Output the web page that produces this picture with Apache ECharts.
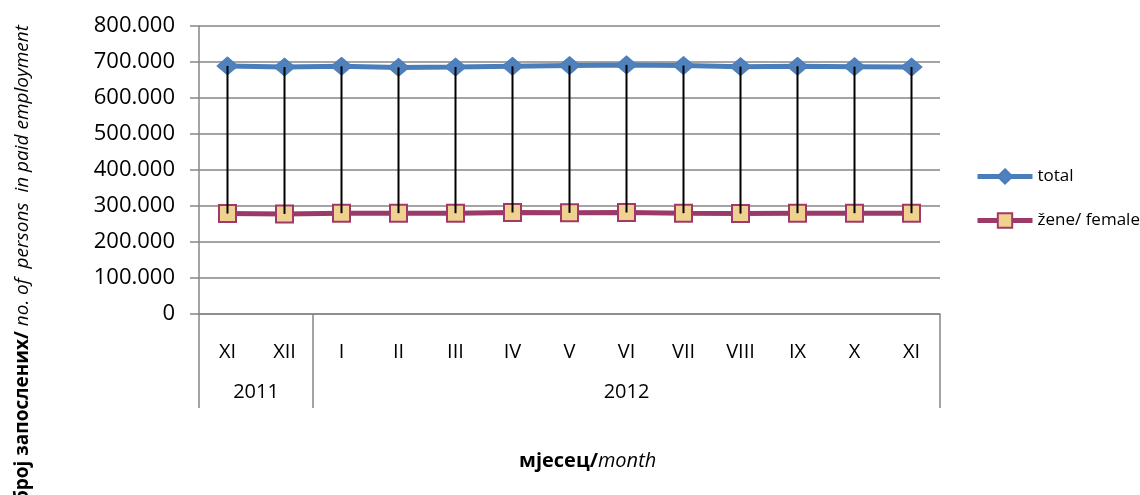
<!DOCTYPE html>
<html>
<head>
<meta charset="utf-8">
<script src="https://cdn.jsdelivr.net/npm/echarts@6/dist/echarts.min.js"></script>
<style>
  html, body { margin: 0; padding: 0; background: #fff; }
  #chart { width: 1140px; height: 495px; }
</style>
</head>
<body>
<div id="chart"></div>
<script>
// mjeseci (prvi nivo ose)
var months = ['XI', 'XII', 'I', 'II', 'III', 'IV', 'V', 'VI', 'VII', 'VIII', 'IX', 'X', 'XI'];
// godine (drugi nivo ose) i broj mjeseci u svakoj
var years = ['2011', '2012'];
var yearSpans = [2, 11];
// broj zaposlenih
var total = [689000, 686000, 688000, 685000, 686000, 688000, 690000, 692000, 690000, 687000, 688000, 687000, 686000];
var female = [279000, 278000, 280000, 280000, 280000, 282000, 281000, 282000, 280000, 279000, 280000, 280000, 280000];

var FONT = 'Open Sans';

function fmt(v) {
	return String(v).replace(/\B(?=(\d{3})+(?!\d))/g, '.');
}

// granice i sredine grupa godina
var yearBounds = [0], yearCenters = [];
yearSpans.forEach(function (n, i) {
	var start = yearBounds[i];
	yearBounds.push(start + n);
	yearCenters.push(start + n / 2);
});

var chart = echarts.init(document.getElementById('chart'));

var option = {
	animation: false,
	backgroundColor: '#fff',
	grid: { left: 199, right: 200, top: 26, bottom: 181 },
	legend: {
		data: ['total', 'žene/ female'],
		orient: 'vertical',
		left: 975,
		top: 168,
		padding: 0,
		itemWidth: 55,
		itemHeight: 18,
		itemGap: 27,
		lineStyle: { width: 5 },
		textStyle: { fontFamily: FONT, fontSize: 17, color: '#000' }
	},
	xAxis: [
		{
			type: 'category',
			data: months,
			boundaryGap: true,
			axisLine: { lineStyle: { color: '#868686', width: 1.5 } },
			axisTick: { show: false },
			axisLabel: { fontFamily: FONT, fontSize: 20, color: '#000', margin: 28, interval: 0 }
		},
		{
			type: 'value',
			position: 'bottom',
			min: 0,
			max: months.length,
			axisLine: { show: false },
			splitLine: { show: false },
			axisTick: {
				show: true,
				customValues: yearBounds,
				length: 94,
				lineStyle: { color: '#868686', width: 1.5 }
			},
			axisLabel: {
				customValues: yearCenters,
				fontFamily: FONT,
				fontSize: 20,
				color: '#000',
				margin: 68,
				formatter: function (v) {
					var i = yearCenters.indexOf(v);
					return i >= 0 ? years[i] : '';
				}
			}
		}
	],
	yAxis: {
		type: 'value',
		min: 0,
		max: 800000,
		interval: 100000,
		axisLine: { show: true, lineStyle: { color: '#868686', width: 1.5 } },
		axisTick: { show: true, length: 9, lineStyle: { color: '#868686', width: 1.5 } },
		splitLine: { lineStyle: { color: '#868686', width: 1.5 } },
		axisLabel: {
			fontFamily: FONT, fontSize: 22, color: '#000', margin: 24,
			formatter: fmt
		}
	},
	series: [
		{
			name: 'total',
			type: 'line',
			data: total,
			symbol: 'diamond',
			symbolSize: [21, 18],
			lineStyle: { color: '#4a7ebb', width: 5 },
			itemStyle: { color: '#4f81bd', borderColor: '#4a7ebb', borderWidth: 1 }
		},
		{
			name: 'žene/ female',
			type: 'line',
			data: female,
			symbol: 'rect',
			symbolSize: 17,
			lineStyle: { color: '#9b3a67', width: 5 },
			itemStyle: { color: '#f0d290', borderColor: '#a0396a', borderWidth: 2 }
		},
		{
			// vertikalne linije izmedju dvije serije
			name: 'hilo',
			type: 'custom',
			z: 5,
			silent: true,
			data: months.map(function (m, i) { return [i, female[i], total[i]]; }),
			renderItem: function (params, api) {
				var i = api.value(0);
				var a = api.coord([i, api.value(1)]);
				var b = api.coord([i, api.value(2)]);
				return {
					type: 'line',
					shape: { x1: a[0], y1: a[1], x2: b[0], y2: b[1] },
					style: { stroke: '#000', lineWidth: 2 }
				};
			}
		}
	],
	graphic: [
		{
			type: 'text',
			left: 519,
			top: 451,
			style: {
				text: '{b|мјесец/}{i|month}',
				rich: {
					b: { fontFamily: FONT, fontSize: 20, fontWeight: 'bold', fill: '#000' },
					i: { fontFamily: FONT, fontSize: 20, fontStyle: 'italic', fill: '#000' }
				}
			}
		},
		{
			type: 'text',
			x: 23,
			y: 25,
			rotation: Math.PI / 2,
			style: {
				text: '{b|број запослених/}{i| no. of  persons  in paid employment}',
				align: 'right',
				verticalAlign: 'middle',
				rich: {
					b: { fontFamily: FONT, fontSize: 19, fontWeight: 'bold', fill: '#000' },
					i: { fontFamily: FONT, fontSize: 19, fontStyle: 'italic', fill: '#000' }
				}
			}
		}
	]
};

chart.setOption(option);
</script>
</body>
</html>
